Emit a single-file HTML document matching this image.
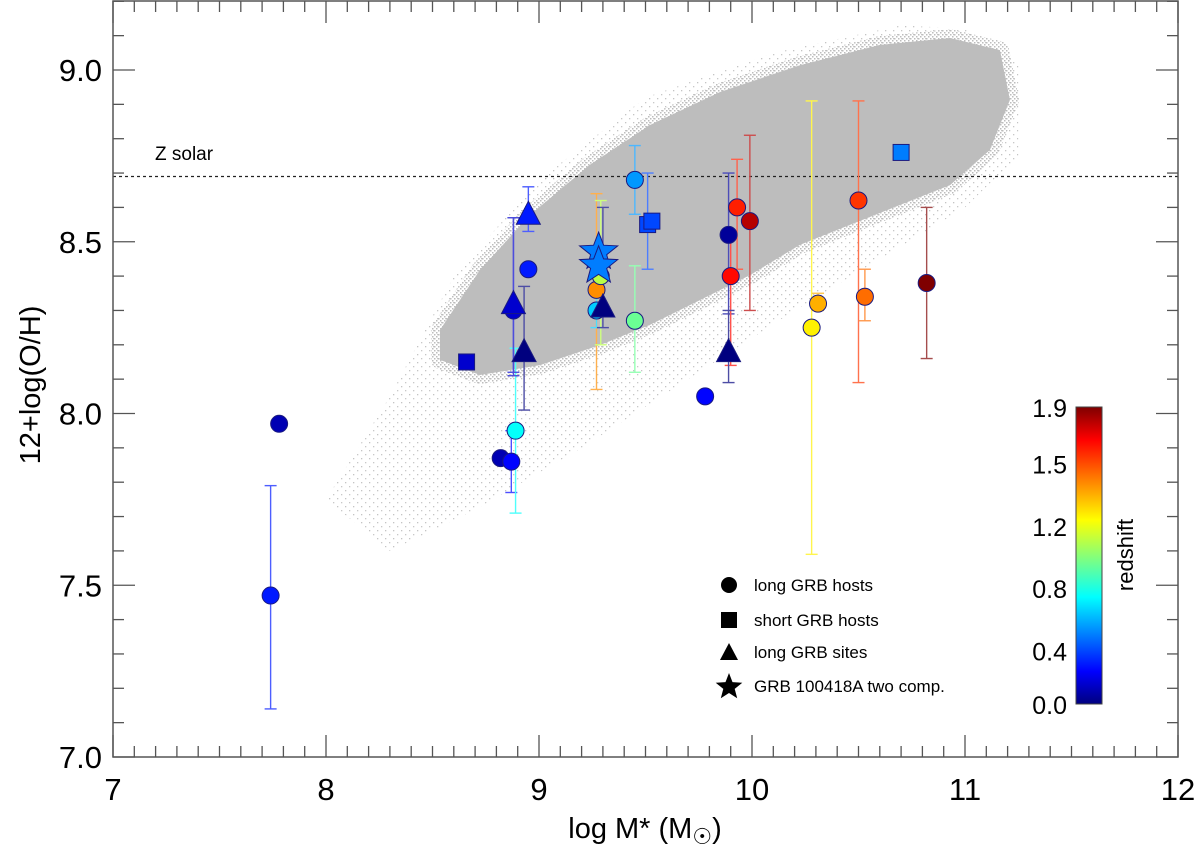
<!DOCTYPE html>
<html><head><meta charset="utf-8"><style>
html,body{margin:0;padding:0;background:#fff;}
svg{display:block;font-family:"Liberation Sans",sans-serif;}
</style></head><body>
<svg id="chart" width="1200" height="849" viewBox="0 0 1200 849">
<defs>
<pattern id="halo" width="8" height="8" patternUnits="userSpaceOnUse">
<rect x="1" y="2" width="1.3" height="1.3" fill="#c4c4c4"/><rect x="5" y="6" width="1.3" height="1.3" fill="#c8c8c8"/>
</pattern>
<pattern id="mid" width="4" height="4" patternUnits="userSpaceOnUse">
<rect x="0" y="0" width="1.5" height="1.5" fill="#bdbdbd"/><rect x="2" y="2" width="1.5" height="1.5" fill="#bdbdbd"/>
</pattern>
<linearGradient id="cbar" x1="0" y1="1" x2="0" y2="0">
<stop offset="0" stop-color="#00007f"/><stop offset="0.11" stop-color="#0000ff"/>
<stop offset="0.36" stop-color="#00ffff"/><stop offset="0.62" stop-color="#ffff00"/>
<stop offset="0.89" stop-color="#ff0000"/><stop offset="1" stop-color="#7f0000"/>
</linearGradient>
</defs>
<g id="cloud"></g>
<g id="grid"></g>
<g id="marks"></g>
<g id="frame"></g>
</svg>
<script>
// ---- data ----
const circleX = [7.74,7.78,8.82,8.87,8.89,8.88,8.95,9.27,9.29,9.27,9.45,9.45,9.78,9.89,9.93,9.99,9.90,10.28,10.31,10.50,10.53,10.82];
const circleY = [7.47,7.97,7.87,7.86,7.95,8.30,8.42,8.36,8.40,8.30,8.68,8.27,8.05,8.52,8.60,8.56,8.40,8.25,8.32,8.62,8.34,8.38];
const circleLo = [7.14,null,null,7.77,7.71,8.11,null,8.07,8.20,8.25,8.58,8.12,null,8.29,8.42,8.30,8.14,7.59,8.30,8.09,8.27,8.16];
const circleHi = [7.79,null,null,7.95,8.19,8.57,null,8.64,8.62,8.40,8.78,8.43,null,8.70,8.74,8.81,8.52,8.91,8.35,8.91,8.42,8.60];
const circleZ = [0.3,0.1,0.1,0.25,0.75,0.15,0.3,1.4,1.1,0.65,0.55,0.95,0.25,0.05,1.6,1.8,1.65,1.25,1.35,1.55,1.45,1.9];
const squareX = [8.66,9.51,9.53,10.70];
const squareY = [8.15,8.55,8.56,8.76];
const squareLo = [null,8.42,null,null];
const squareHi = [null,8.70,null,null];
const squareZ = [0.15,0.4,0.4,0.5];
const triX = [8.95,8.88,8.93,9.30,9.89];
const triY = [8.58,8.32,8.18,8.31,8.18];
const triLo = [8.53,8.12,8.01,8.25,8.09];
const triHi = [8.66,8.57,8.37,8.60,8.30];
const triZ = [0.3,0.15,0.0,0.0,0.0];
const starX = [9.28,9.28];
const starY = [8.47,8.43];
const starZ = [0.5,0.5];
const xTicks = [7,8,9,10,11,12];
const yTicks = [7.0,7.5,8.0,8.5,9.0];
const yTickLabels = ["7.0","7.5","8.0","8.5","9.0"];
const cbarTicks = [0.0,0.4,0.8,1.2,1.5,1.9];
const cbarFrac = [0,0.18,0.39,0.60,0.81,1];
const solarZ = 8.69;
const cloudCore = [[8.535,8.243],[8.723,8.418],[8.958,8.578],[9.239,8.724],[9.521,8.84],[9.85,8.936],[10.225,9.014],[10.601,9.073],[10.93,9.093],[11.164,9.058],[11.211,8.913],[11.117,8.767],[10.93,8.665],[10.695,8.607],[10.46,8.549],[10.225,8.491],[9.991,8.403],[9.756,8.33],[9.521,8.258],[9.286,8.199],[9.005,8.141],[8.723,8.112],[8.535,8.156]];
const cloudHalo = [[8.0,7.75],[8.3,8.05],[8.6,8.4],[9.0,8.68],[9.5,8.92],[10.1,9.05],[10.7,9.13],[11.0,9.12],[11.25,9.02],[11.25,8.75],[11.0,8.6],[10.6,8.45],[10.2,8.3],[9.7,8.1],[9.2,7.9],[8.7,7.72],[8.3,7.6]];

// ---- axes ----
const X0=113,X1=1178,Y0=757,Y1=1;
const xs = v => X0 + (v-7)*(X1-X0)/5;
const ys = v => Y0 - (v-7)*(Y0-70)/2;
const NS="http://www.w3.org/2000/svg";
function mk(tag, attrs, parent){const e=document.createElementNS(NS,tag);for(const k in attrs)e.setAttribute(k,attrs[k]);parent.appendChild(e);return e;}
const stops=[[0,[0,0,127]],[0.11,[0,0,255]],[0.36,[0,255,255]],[0.62,[255,255,0]],[0.89,[255,0,0]],[1,[127,0,0]]];
function zfrac(z){for(let i=0;i<cbarTicks.length-1;i++){if(z<=cbarTicks[i+1]){const t=(z-cbarTicks[i])/(cbarTicks[i+1]-cbarTicks[i]);return cbarFrac[i]+t*(cbarFrac[i+1]-cbarFrac[i]);}}return 1;}
function col(z,light){const f=zfrac(z);let c=stops[stops.length-1][1];for(let i=0;i<stops.length-1;i++){if(f<=stops[i+1][0]){const t=(f-stops[i][0])/(stops[i+1][0]-stops[i][0]);c=stops[i][1].map((a,j)=>a+t*(stops[i+1][1][j]-a));break;}}if(light)c=c.map(a=>a+(255-a)*0.3);return `rgb(${c.map(Math.round).join(',')})`;}

const cloud=document.getElementById('cloud');
let p=mk('polygon',{points:cloudHalo.map(q=>xs(q[0])+','+ys(q[1])).join(' '),fill:'url(#halo)'},cloud);


p=mk('polygon',{points:cloudCore.map(q=>xs(q[0])+','+ys(q[1])).join(' '),fill:'#bdbdbd',stroke:'url(#mid)','stroke-width':18,'stroke-linejoin':'round'},cloud);



const g=document.getElementById('grid');
let l=mk('line',{x1:X0,x2:X1,y1:ys(solarZ),y2:ys(solarZ),stroke:'#222','stroke-width':1.2,'stroke-dasharray':'3,3'},g);


let t=mk('text',{x:155,y:160,'font-size':19,fill:'#000'},g);t.textContent='Z solar';



const m=document.getElementById('marks');
function errbar(x,lo,hi,z){if(lo==null)return;const c=col(z,true);const px=xs(x);
 const gg=mk('g',{stroke:c,'stroke-width':1.4},m);
 
 
 mk('line',{x1:px,x2:px,y1:ys(lo),y2:ys(hi)},gg);mk('line',{x1:px-6,x2:px+6,y1:ys(lo),y2:ys(lo)},gg);mk('line',{x1:px-6,x2:px+6,y1:ys(hi),y2:ys(hi)},gg);}
circleX.forEach((x,i)=>errbar(x,circleLo[i],circleHi[i],circleZ[i]));
squareX.forEach((x,i)=>errbar(x,squareLo[i],squareHi[i],squareZ[i]));
triX.forEach((x,i)=>errbar(x,triLo[i],triHi[i],triZ[i]));
const ST='#1a1a80';
circleX.forEach((x,i)=>{const e=mk('circle',{cx:xs(x),cy:ys(circleY[i]),r:8.5,fill:col(circleZ[i]),stroke:ST,'stroke-width':1},m);
 
 });
squareX.forEach((x,i)=>{const e=mk('rect',{x:xs(x)-8,y:ys(squareY[i])-8,width:16,height:16,fill:col(squareZ[i]),stroke:ST,'stroke-width':1},m);
 
 });
triX.forEach((x,i)=>{const px=xs(x),py=ys(triY[i]);const e=mk('polygon',{points:`${px},${py-13} ${px+12},${py+10} ${px-12},${py+10}`,fill:col(triZ[i]),stroke:ST,'stroke-width':1},m);
 
 });
function starPts(cx,cy,R,r){let s=[];for(let k=0;k<10;k++){const a=-Math.PI/2+k*Math.PI/5;const rr=k%2?r:R;s.push((cx+rr*Math.cos(a)).toFixed(1)+','+(cy+rr*Math.sin(a)).toFixed(1));}return s.join(' ');}
starX.forEach((x,i)=>{const e=mk('polygon',{points:starPts(xs(x),ys(starY[i]),20,8.5),fill:col(starZ[i]),stroke:ST,'stroke-width':1},m);
 
 });

// legend
const L=[['circle','long GRB hosts',585],['square','short GRB hosts',620],['tri','long GRB sites',652],['star','GRB 100418A two comp.',686]];
L.forEach(([k,txt,y])=>{const gg=mk('g',{},m);
 
 
 if(k=='circle')mk('circle',{cx:729,cy:y,r:8,fill:'#000'},gg);
 if(k=='square')mk('rect',{x:721,y:y-8,width:16,height:16,fill:'#000'},gg);
 if(k=='tri')mk('polygon',{points:`729,${y-9} 738,${y+8} 720,${y+8}`,fill:'#000'},gg);
 if(k=='star')mk('polygon',{points:starPts(729,y+1,14,6),fill:'#000'},gg);
 const tt=mk('text',{x:754,y:y+6,'font-size':17},gg);tt.textContent=txt;});

// frame & ticks
const f=document.getElementById('frame');
const fr=mk('rect',{x:X0,y:Y1,width:X1-X0,height:Y0-Y1,fill:'none',stroke:'#555','stroke-width':1.5},f);


for(let v=7;v<=12.001;v+=0.1){const px=xs(v);const major=Math.abs(v-Math.round(v))<1e-6;const len=major?22:11;
 mk('line',{x1:px,x2:px,y1:Y0,y2:Y0-len,stroke:'#555','stroke-width':1.3},f);mk('line',{x1:px,x2:px,y1:Y1,y2:Y1+len,stroke:'#555','stroke-width':1.3},f);}
for(let v=7;v<=9.2001;v+=0.1){const py=ys(v);const major=Math.abs(v*2-Math.round(v*2))<1e-6;const len=major?22:11;
 mk('line',{x1:X0,x2:X0+len,y1:py,y2:py,stroke:'#555','stroke-width':1.3},f);mk('line',{x1:X1,x2:X1-len,y1:py,y2:py,stroke:'#555','stroke-width':1.3},f);}
xTicks.forEach(v=>{const e=mk('text',{x:xs(v),y:800,'font-size':31,'text-anchor':'middle'},f);e.textContent=v;
 
 });
yTicks.forEach((v,i)=>{const e=mk('text',{x:102,y:ys(v)+11,'font-size':31,'text-anchor':'end'},f);e.textContent=yTickLabels[i];
 
 });
let xt=mk('text',{x:645,y:838,'font-size':29,'text-anchor':'middle'},f);xt.innerHTML='log M* (M<tspan font-size="22" dy="6">☉</tspan><tspan dy="-6">)</tspan>';


let yt=mk('text',{x:0,y:0,'font-size':29,'text-anchor':'middle',transform:'translate(40,385) rotate(-90)'},f);yt.textContent='12+log(O/H)';



// colorbar
const CB={x:1076,y0:704,y1:407,w:26};
const cb=mk('rect',{x:CB.x,y:CB.y1,width:CB.w,height:CB.y0-CB.y1,fill:'url(#cbar)',stroke:'#444','stroke-width':1},f);


cbarTicks.forEach((v,i)=>{const py=CB.y0-cbarFrac[i]*(CB.y0-CB.y1);const e=mk('text',{x:1067,y:py+10,'font-size':25,'text-anchor':'end'},f);e.textContent=v.toFixed(1);
 
 });
let ct=mk('text',{x:0,y:0,'font-size':22,'text-anchor':'middle',transform:'translate(1133,555) rotate(-90)'},f);ct.textContent='redshift';


</script>
</body></html>
